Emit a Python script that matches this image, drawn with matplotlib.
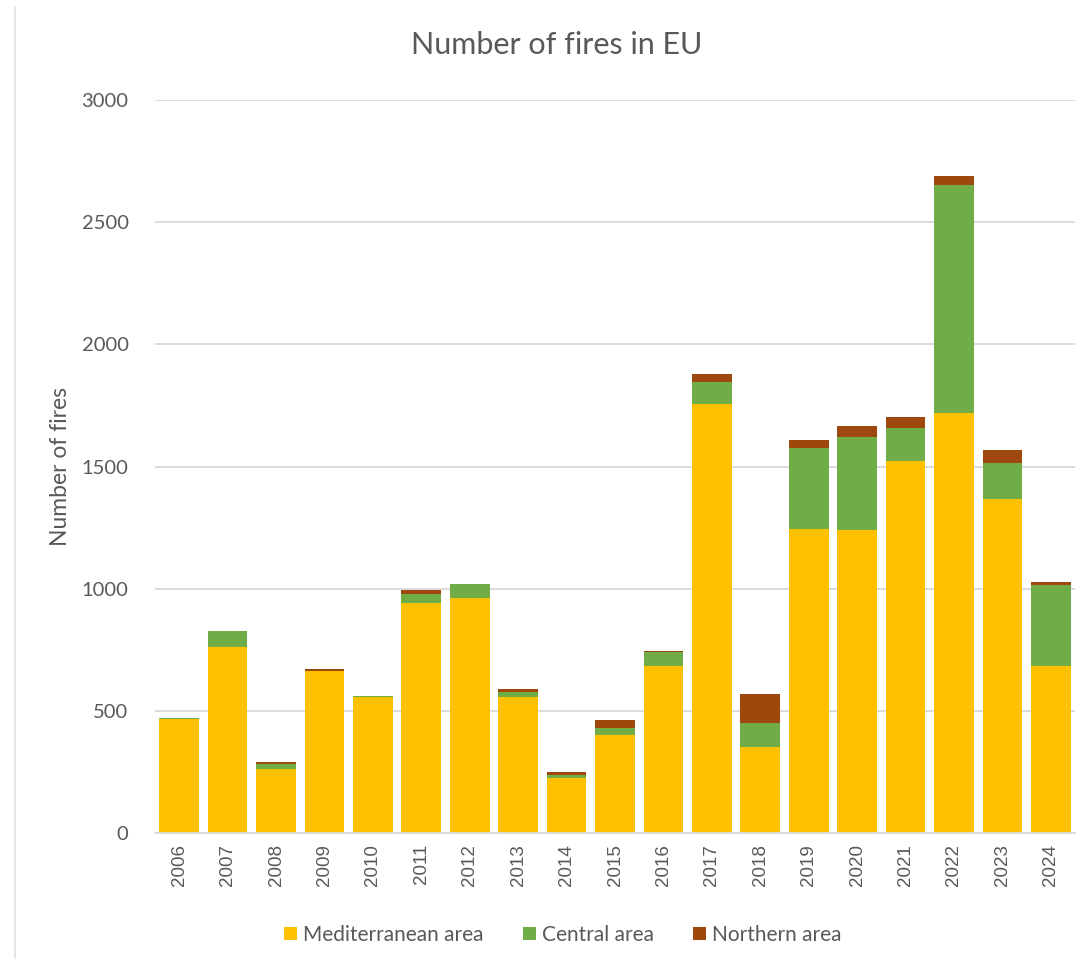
import matplotlib.pyplot as plt
import numpy as np

years = ['2006', '2007', '2008', '2009', '2010', '2011', '2012', '2013', '2014', '2015',
         '2016', '2017', '2018', '2019', '2020', '2021', '2022', '2023', '2024']
mediterranean = [465, 760, 263, 662, 558, 943, 962, 557, 224, 401,
                 683, 1756, 351, 1243, 1241, 1522, 1719, 1367, 683]
central = [5, 68, 20, 3, 4, 34, 56, 19, 14, 30,
           58, 91, 101, 332, 381, 136, 932, 147, 333]
northern = [0, 0, 7, 5, 0, 18, 0, 12, 12, 31,
            2, 30, 117, 34, 43, 43, 40, 54, 13]

txt = '#595959'
plt.rcParams['font.family'] = ['Lato', 'DejaVu Sans']

fig = plt.figure(figsize=(10.87, 9.59), dpi=100)
ax = fig.add_axes([0.1426, 0.1314, 0.8464, 0.7643])

x = np.arange(len(years))
med = np.array(mediterranean)
cen = np.array(central)
nor = np.array(northern)
w = 0.82
ax.bar(x, med, w, color='#FFC000', label='Mediterranean area', zorder=2)
ax.bar(x, cen, w, bottom=med, color='#70AD47', label='Central area', zorder=2)
ax.bar(x, nor, w, bottom=med + cen, color='#9E480E', label='Northern area', zorder=2)

ax.set_xlim(-0.5, len(years) - 0.5)
ax.set_ylim(0, 3000)
ax.set_yticks(range(0, 3001, 500))
ax.yaxis.grid(True, color='#D9D9D9', linewidth=1.3, zorder=0)
ax.set_axisbelow(True)
for s in ['top', 'right', 'left']:
    ax.spines[s].set_visible(False)
ax.spines['bottom'].set_color('#D9D9D9')
ax.spines['bottom'].set_linewidth(1.3)
ax.tick_params(length=0, colors=txt)
ax.tick_params(axis='y', labelsize=14.5, pad=19)
ax.set_xticks(x)
ax.set_xticklabels(years, rotation=90, fontsize=13.5, family=['Liberation Sans'])
ax.tick_params(axis='x', pad=8)
ax.set_ylabel('Number of fires', fontsize=16.5, color=txt, labelpad=8)

fig.text(557 / 1087, 1 - 45 / 959, 'Number of fires in EU', fontsize=22,
         color=txt, ha='center', va='center')

fig.legend(loc='center', bbox_to_anchor=(563 / 1087, 1 - 935 / 959), ncol=3,
           frameon=False, fontsize=15, labelcolor=txt, handlelength=0.6,
           handleheight=0.6, handletextpad=0.3, columnspacing=1.9)

# thin frame line on the left edge
fig.add_artist(plt.Line2D([15 / 1087, 15 / 1087], [0, 1 - 7 / 959],
                          color='#E0E0E0', linewidth=1.2))

fig.savefig('out.png', dpi=100)
